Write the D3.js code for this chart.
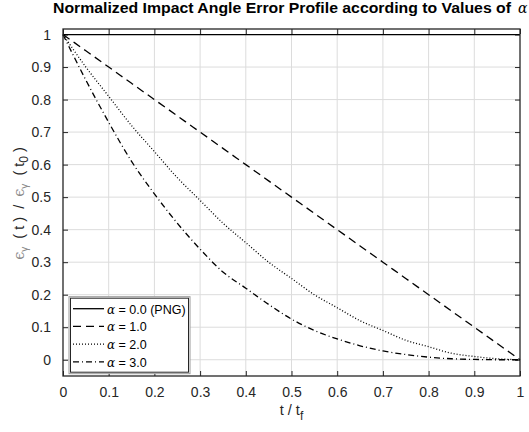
<!DOCTYPE html>
<html>
<head>
<meta charset="utf-8">
<script src="https://cdn.jsdelivr.net/npm/d3@7"></script>
<style>
  body { margin: 0; background: #fff; }
  text { font-family: Arial, "Liberation Sans", sans-serif; }
</style>
</head>
<body>
<svg id="plt"></svg>
<script>
// values, t / t_f in steps of 0.05
const tValues = [0, 0.05, 0.1, 0.15, 0.2, 0.25, 0.3, 0.35, 0.4, 0.45, 0.5,
                 0.55, 0.6, 0.65, 0.7, 0.75, 0.8, 0.85, 0.9, 0.95, 1];
const alpha0 = [1, 1, 1, 1, 1, 1, 1, 1, 1, 1, 1, 1, 1, 1, 1, 1, 1, 1, 1, 1, 1];
const alpha1 = [1, 0.95, 0.9, 0.85, 0.8, 0.75, 0.7, 0.65, 0.6, 0.55, 0.5,
                0.45, 0.4, 0.35, 0.3, 0.25, 0.2, 0.15, 0.1, 0.05, 0];
const alpha2 = [1, 0.90, 0.81, 0.72, 0.64, 0.56, 0.49, 0.42, 0.36, 0.30, 0.25,
                0.20, 0.16, 0.12, 0.09, 0.06, 0.04, 0.02, 0.01, 0.003, 0];
const alpha3 = [1, 0.86, 0.73, 0.61, 0.51, 0.42, 0.34, 0.27, 0.22, 0.17, 0.125,
                0.09, 0.064, 0.043, 0.027, 0.016, 0.008, 0.003, 0.001, 0, 0];
const seriesNames = ["= 0.0 (PNG)", "= 1.0", "= 2.0", "= 3.0"];
const xTicks = [0, 0.1, 0.2, 0.3, 0.4, 0.5, 0.6, 0.7, 0.8, 0.9, 1];
const yTicks = [0, 0.1, 0.2, 0.3, 0.4, 0.5, 0.6, 0.7, 0.8, 0.9, 1];

const dashes = [null, "8,5", "1,2", "6,3,1,3"];
const series = [alpha0, alpha1, alpha2, alpha3];

const W = 529, H = 432;
const margin = { left: 63, top: 29, right: 9, bottom: 56 };
const pw = W - margin.left - margin.right,
      ph = H - margin.top - margin.bottom;

let x = d3.scaleLinear().domain([0, 1]).range([0, pw]);
let y = d3.scaleLinear().domain([-0.05, 1.017]).range([ph, 0]);

const svg = d3.select("#plt")
    .attr("width", W)
    .attr("height", H);

const g = svg.append("g")
    .attr("transform", "translate(" + margin.left + "," + margin.top + ")");

// grid
g.append("g").selectAll("line")
    .data(xTicks.slice(1, -1))
    .enter().append("line")
    .attr("x1", d => x(d)).attr("x2", d => x(d))
    .attr("y1", 0).attr("y2", ph)
    .attr("stroke", "#dcdcdc").attr("stroke-width", 1);
g.append("g").selectAll("line")
    .data(yTicks)
    .enter().append("line")
    .attr("x1", 0).attr("x2", pw)
    .attr("y1", d => y(d)).attr("y2", d => y(d))
    .attr("stroke", "#dcdcdc").attr("stroke-width", 1);

// axes, ticks inside like matlab
function styleAxis(sel) {
    sel.select(".domain").remove();
    sel.selectAll(".tick line").attr("stroke", "#262626");
    sel.selectAll("text").attr("fill", "#262626").style("font-size", "14px");
}
g.append("g")
    .attr("transform", "translate(0," + ph + ")")
    .call(d3.axisBottom(x).tickValues(xTicks).tickSizeInner(-5).tickPadding(11)
        .tickFormat(d => d3.format("")(d)))
    .call(styleAxis);
g.append("g")
    .call(d3.axisTop(x).tickValues(xTicks).tickSizeInner(-5).tickFormat(""))
    .call(styleAxis);
g.append("g")
    .call(d3.axisLeft(y).tickValues(yTicks).tickSizeInner(-5).tickPadding(12)
        .tickFormat(d => d3.format("")(d)))
    .call(styleAxis);
g.append("g")
    .attr("transform", "translate(" + pw + ",0)")
    .call(d3.axisRight(y).tickValues(yTicks).tickSizeInner(-5).tickFormat(""))
    .call(styleAxis);

// lines
const line = d3.line()
    .x((d, i) => x(tValues[i]))
    .y(d => y(d))
    .curve(d3.curveMonotoneX);

series.forEach(function (s, k) {
    g.append("path")
        .datum(s)
        .attr("fill", "none")
        .attr("stroke", "#000")
        .attr("stroke-width", 1.3)
        .attr("stroke-dasharray", dashes[k])
        .attr("d", line);
});

// box
g.append("rect")
    .attr("width", pw).attr("height", ph)
    .attr("fill", "none").attr("stroke", "#262626").attr("stroke-width", 1.3);

// legend
const lg = g.append("g").attr("transform", "translate(6," + (y(0.2) + 2) + ")");
lg.append("rect")
    .attr("width", 121).attr("height", 77)
    .attr("fill", "#fff").attr("stroke", "#9a9a9a").attr("stroke-width", 1);
lg.append("rect")
    .attr("x", 1.5).attr("y", 1.5)
    .attr("width", 118).attr("height", 74)
    .attr("fill", "none").attr("stroke", "#262626").attr("stroke-width", 1);
seriesNames.forEach(function (name, k) {
    let ly = 12 + k * 17.7;
    lg.append("line")
        .attr("x1", 4).attr("x2", 35)
        .attr("y1", ly).attr("y2", ly)
        .attr("stroke", "#000").attr("stroke-width", 1.3)
        .attr("stroke-dasharray", dashes[k]);
    let t = lg.append("text")
        .attr("x", 38).attr("y", ly + 5)
        .style("font-size", "12.5px").attr("fill", "#000");
    t.append("tspan").style("font-family", "'DejaVu Serif', serif")
        .style("font-style", "italic").style("font-size", "12px").text("α");
    t.append("tspan").text(" " + name);
});

// title
const title = svg.append("text")
    .attr("x", 53).attr("y", 12.5)
    .style("font-size", "14px").style("font-weight", "bold").attr("fill", "#000");
title.append("tspan")
    .attr("textLength", 458).attr("lengthAdjust", "spacingAndGlyphs")
    .text("Normalized Impact Angle Error Profile according to Values of");
title.append("tspan").attr("x", 518).style("font-family", "'DejaVu Serif', serif")
    .style("font-style", "italic").style("font-weight", "normal").style("font-size", "14px").text("α");

// x label
const xl = svg.append("text")
    .attr("x", margin.left + x(0.5)).attr("y", 415)
    .attr("text-anchor", "middle")
    .style("font-size", "14.5px").attr("fill", "#262626");
xl.append("tspan").text("t / t");
xl.append("tspan").attr("dy", 5).style("font-size", "12px").text("f");

// y label
const yl = svg.append("text")
    .attr("transform", "translate(24," + (margin.top + ph / 2 + 1) + ") rotate(-90)")
    .attr("text-anchor", "middle")
    .style("font-size", "14.5px").attr("fill", "#262626")
    .style("white-space", "pre");
yl.append("tspan").attr("fill", "#888").style("font-family", "'DejaVu Serif', serif").text("ϵ");
yl.append("tspan").attr("dy", 4).attr("fill", "#888").style("font-size", "10px").text("γ");
yl.append("tspan").attr("dy", -4).text("  ( t )  /  ");
yl.append("tspan").attr("fill", "#888").style("font-family", "'DejaVu Serif', serif").text("ϵ");
yl.append("tspan").attr("dy", 4).attr("fill", "#888").style("font-size", "10px").text("γ");
yl.append("tspan").attr("dy", -4).text("  ( t");
yl.append("tspan").attr("dy", 4).style("font-size", "12px").text("0");
yl.append("tspan").attr("dy", -4).text(" )");
</script>
</body>
</html>
